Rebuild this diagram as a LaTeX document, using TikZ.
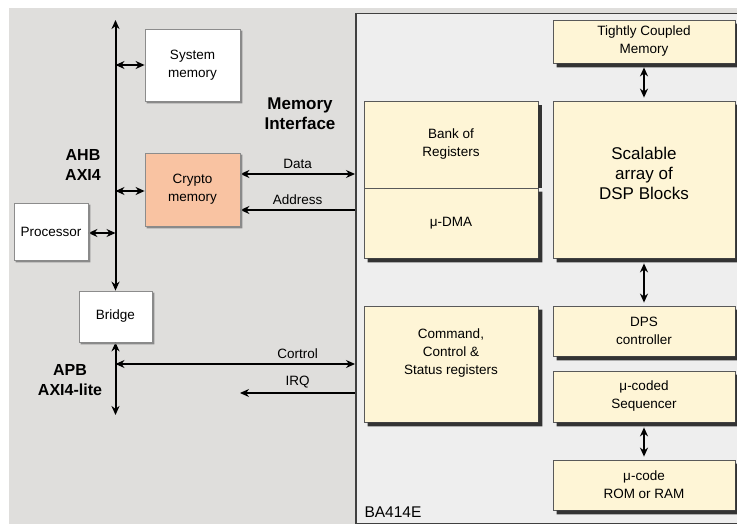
\documentclass[tikz,border=0pt]{standalone}
\usepackage{fontspec}
\setmainfont{Liberation Sans}
\usetikzlibrary{arrows.meta}

\definecolor{bggray}{HTML}{DFDEDC}
\definecolor{bagray}{HTML}{EEEEEE}
\definecolor{cream}{HTML}{FEF5D6}
\definecolor{salmon}{HTML}{F9C3A2}
\definecolor{shadowdark}{HTML}{333333}
\definecolor{shadowlight}{HTML}{8A8A8A}

\tikzset{
  txt/.style={font=\fontsize{13.5}{18}\selectfont, align=center},
  blk/.style={txt, draw=black!65, fill=cream, line width=0.8pt, inner sep=0pt},
  wbox/.style={txt, draw=black!45, fill=white, line width=0.8pt, inner sep=0pt},
  buslbl/.style={font=\fontsize{16}{20}\bfseries\selectfont, align=center},
  tip/.style={line width=1.3pt, {Stealth[length=9pt,width=8pt]}-{Stealth[length=9pt,width=8pt]}},
  bus/.style={tip, line width=2pt},
  oneway/.style={line width=1.3pt, {Stealth[length=9pt,width=8pt]}-}
}

\begin{document}
\begin{tikzpicture}[x=1pt, y=-1pt]
\useasboundingbox (0,0) rectangle (737,524);
\fill[bggray] (9,8) rectangle (737,524);

% BA414E core
\node[draw=black!75, line width=1.5pt, fill=bagray, minimum width=400pt,
  minimum height=510pt, anchor=north west, inner sep=0pt] (ba) at (355,13) {};
\node[font=\fontsize{15.5}{18}\selectfont, anchor=base west] (baname) at (361,517) {BA414E};

% system side
\node[wbox, minimum width=95pt, minimum height=72pt] (sysmem) at (192.5,65) {System\\memory};
\node[wbox, fill=salmon, minimum width=95pt, minimum height=73pt] (crypto) at (192.5,189.5) {Crypto\\memory};
\node[wbox, minimum width=74pt, minimum height=57pt] (proc) at (51,231.5) {Processor};
\node[wbox, minimum width=73pt, minimum height=51pt] (bridge) at (115.5,316.5) {Bridge};

\coordinate (ahbtop) at (115.5,20);
\coordinate (apbend) at (115.5,415);
\coordinate (ctl) at (115.5,364);
\coordinate (irq) at (240,393);

\draw[bus] (bridge.north) -- (ahbtop);
\draw[bus] (bridge.south) -- (apbend);
\draw[tip] (sysmem.west -| bridge) -- (sysmem.west);
\draw[tip] ([yshift=-1.5pt]crypto.west -| bridge) -- ([yshift=-1.5pt]crypto.west);
\draw[tip] ([yshift=-1.5pt]proc.east) -- ([yshift=-1.5pt]proc.east -| bridge);

\node[buslbl] (ahb) at (83,165) {AHB\\AXI4};
\node[buslbl] (apb) at (70,380) {APB\\AXI4-lite};
\node[buslbl, font=\fontsize{17}{20}\bfseries\selectfont] (memif) at (300,114) {Memory\\Interface};

% memory interface
\draw[tip] ([yshift=15.5pt]crypto.east) -- ([yshift=15.5pt]crypto.east -| ba.west)
  node[txt, midway, above=1pt] (data) {Data};
\draw[oneway] ([yshift=-20.5pt]crypto.east) -- ([yshift=-20.5pt]crypto.east -| ba.west)
  node[txt, midway, above=1pt] (addr) {Address};

% control interface
\draw[tip] (ctl) -- (ctl -| ba.west) node[txt, pos=0.76, above=1pt] (ctltxt) {Cortrol};
\draw[oneway] (irq) -- (irq -| ba.west) node[txt, midway, above=1pt] (irqtxt) {IRQ};

% inside BA414E
\node[blk, minimum width=174pt, minimum height=87pt] (regs) at (451,144.5) {Bank of\\Registers};
\node[blk, minimum width=174pt, minimum height=70pt] (udma) at (451,223) {μ-DMA};
\node[blk, minimum width=174pt, minimum height=116pt] (cmd) at (451,364) {};
\node[txt] (cmdtxt) at (451,353) {Command,\\Control \&\\Status registers};

\node[blk, minimum width=182pt, minimum height=43pt] (tcm) at (644,41.5) {Tightly Coupled\\Memory};
\node[blk, minimum width=182pt, minimum height=157pt] (dsp) at (644,179.5) {};
\node[txt, font=\fontsize{17}{20}\selectfont] (dsptxt) at (644,173) {Scalable\\array of\\DSP Blocks};
\node[blk, minimum width=182pt, minimum height=50pt] (dps) at (644,331) {DPS\\controller};
\node[blk, minimum width=182pt, minimum height=51pt] (seq) at (644,396.5) {μ-coded\\Sequencer};
\node[blk, minimum width=182pt, minimum height=50pt] (rom) at (644,485) {μ-code\\ROM or RAM};

% shadows along bottom and right edges
\foreach \bx in {udma,cmd,tcm,dsp,dps,seq,rom}
  \fill[shadowdark] ([shift={(4pt,0pt)}]\bx.south west) -- ([shift={(4pt,-4pt)}]\bx.south west)
    -- ([shift={(4pt,-4pt)}]\bx.south east) -- ([shift={(4pt,-4pt)}]\bx.north east)
    -- ([shift={(0pt,-4pt)}]\bx.north east) -- (\bx.south east) -- cycle;
\fill[shadowdark] ([shift={(0pt,-4pt)}]regs.north east) rectangle ([shift={(4pt,0pt)}]regs.south east);
\foreach \bx in {sysmem,crypto,proc,bridge}
  \fill[shadowlight] ([shift={(2pt,0pt)}]\bx.south west) -- ([shift={(2pt,-2pt)}]\bx.south west)
    -- ([shift={(2pt,-2pt)}]\bx.south east) -- ([shift={(2pt,-2pt)}]\bx.north east)
    -- ([shift={(0pt,-2pt)}]\bx.north east) -- (\bx.south east) -- cycle;

\draw[tip] ([yshift=-4pt]tcm.south) -- ([yshift=3pt]dsp.north);
\draw[tip] ([yshift=-5pt]dsp.south) -- ([yshift=3pt]dps.north);
\draw[tip] ([yshift=-5pt]seq.south) -- ([yshift=3pt]rom.north);
\end{tikzpicture}
\end{document}
